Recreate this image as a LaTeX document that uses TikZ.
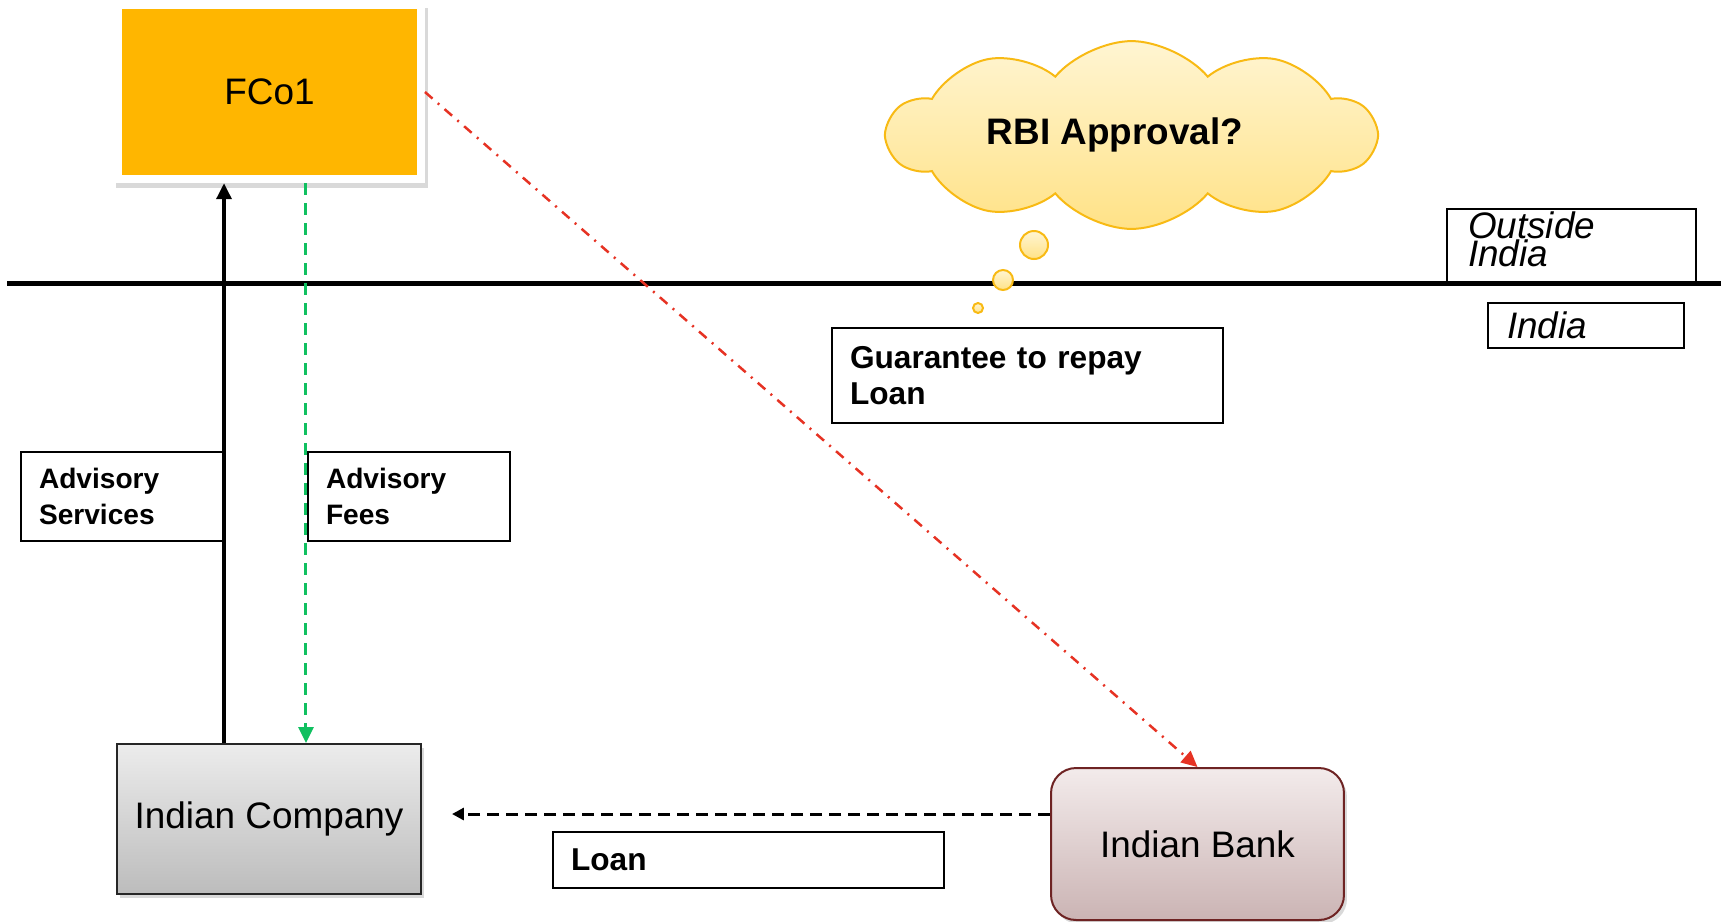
\documentclass[tikz,border=0pt]{standalone}
\usepackage{fontspec}
\setmainfont{Liberation Sans}
\usepackage{tikz}
\usetikzlibrary{arrows.meta, shapes.symbols, shadows}
\definecolor{fcoorange}{RGB}{255,182,0}
\definecolor{cloudtop}{RGB}{255,245,210}
\definecolor{cloudbottom}{RGB}{255,226,135}
\definecolor{cloudedge}{RGB}{248,186,20}
\definecolor{feegreen}{RGB}{16,192,96}
\definecolor{guarred}{RGB}{230,50,35}
\definecolor{banktop}{RGB}{243,235,235}
\definecolor{bankbottom}{RGB}{203,180,180}
\definecolor{bankedge}{RGB}{110,35,35}
\definecolor{comptop}{RGB}{236,236,236}
\definecolor{compbottom}{RGB}{188,188,188}

\begin{document}
\begin{tikzpicture}[x=0.02cm, y=-0.02cm, >={Triangle[length=0.32cm, width=0.3cm]},
         party/.style={
         % The shape:
         rectangle,
         % The border
         line width=0.04cm,
         % The shadow
         drop shadow={shadow xshift=0.06cm, shadow yshift=-0.08cm, opacity=0.3},
         % Font
         font=\fontsize{21}{25}\selectfont},
         tag/.style={
         % The shape:
         rectangle, draw=black, line width=0.04cm,
         % Text to the left
         align=left, inner xsep=0.36cm,
         % Font
         font=\bfseries\fontsize{18}{20.5}\selectfont},
         region/.style={rectangle, draw=black, line width=0.04cm,
         font=\itshape\fontsize{21}{16}\selectfont},
         bubble/.style={draw=cloudedge, line width=0.04cm, top color=cloudtop, bottom color=cloudbottom}]
         \useasboundingbox (0,0) rectangle (1727,921);
         % border line between the two countries
         \coordinate (borderW) at (7,283);
         \coordinate (borderE) at (1721,283);
         \draw [line width=0.1cm] (borderW) -- (borderE);
         \node [region, minimum width=4.98cm, minimum height=1.48cm] (outside) at (1571.5,246) {};
         \node [region, draw=none, align=left, anchor=north west, inner sep=0pt] (outsidetxt) at (1467,211) {Outside\\India};
         \node [region, align=left, text width=3.16cm, inner xsep=0.38cm, minimum height=0.9cm] (india) at (1586,325) {India};
         % the parties
         \node [party, fill=fcoorange, draw=white, line width=0.16cm, minimum width=6.06cm, minimum height=3.49cm,
                drop shadow={shadow xshift=0.04cm, shadow yshift=-0.12cm, shadow scale=1.03, opacity=0.3}] (fco) at (269.5,92) {FCo1};
         \node [party, top color=comptop, bottom color=compbottom, draw=black!85, minimum width=6.08cm, minimum height=3cm] (comp) at (269,819) {Indian Company};
         \node [party, rounded corners=0.5cm, top color=banktop, bottom color=bankbottom, draw=bankedge, minimum width=5.86cm, minimum height=3.04cm] (bank) at (1197.5,844) {Indian Bank};
         % the question
         \node [cloud, cloud puffs=10, cloud puff arc=100, aspect=3.2, draw=cloudedge, line width=0.04cm, top color=cloudtop, bottom color=cloudbottom, minimum width=9.74cm, minimum height=2.8cm, font=\bfseries\fontsize{21}{25}\selectfont] (rbi) at (1131.5,135) {RBI Approval?\hspace*{0.66cm}};
         \foreach \bx/\by/\br in {1034/245/14, 1003/280/10, 978/308/5}{
            \draw [bubble] (\bx,\by) circle [radius=\br];
         };
         % labels
         \node [tag, font=\bfseries\fontsize{16}{20.5}\selectfont, text width=3.34cm, minimum height=1.78cm] (advserv) at (122.5,496.5) {Advisory\\Services};
         \node [tag, font=\bfseries\fontsize{16}{20.5}\selectfont, text width=3.32cm, minimum height=1.78cm] (advfees) at (409,496.5) {Advisory\\Fees};
         \node [tag, text width=7.1cm, minimum height=1.9cm] (guar) at (1027.5,375.5) {Guarantee to repay\\Loan};
         \node [tag, text width=7.1cm, minimum height=1.12cm] (loan) at (748.5,860) {Loan};
         % flows
         \draw [->, line width=0.07cm] ([xshift=-0.9cm]comp.north) -- ([xshift=-0.9cm]comp.north |- fco.south);
         \draw [->, feegreen, line width=0.06cm, dash pattern=on 0.24cm off 0.16cm] ([xshift=0.74cm]comp.north |- fco.south) -- ([xshift=0.74cm]comp.north);
         \draw [->, guarred, line width=0.05cm, dash pattern=on 0.2cm off 0.14cm on 0.04cm off 0.14cm] (fco.east) -- (bank.north);
         \draw [-{Triangle[length=0.24cm, width=0.24cm]}, line width=0.06cm, dash pattern=on 0.24cm off 0.14cm, shorten >=0.6cm] ([yshift=0.6cm]bank.west) -- ([yshift=0.6cm]bank.west -| comp.east);
      \end{tikzpicture}
\end{document}
